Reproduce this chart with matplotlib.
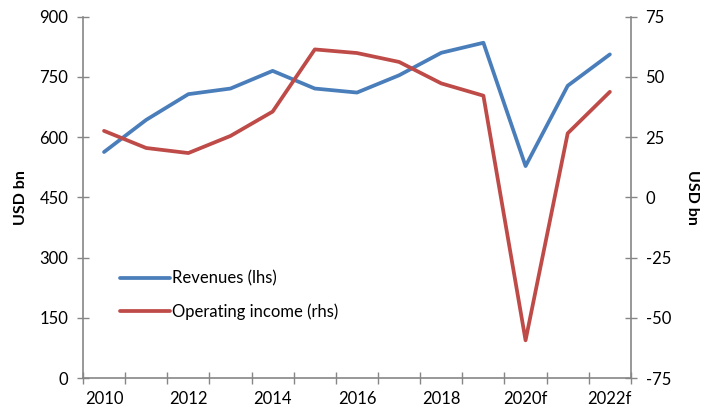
import numpy as np
import matplotlib.pyplot as plt
from matplotlib.ticker import FixedLocator, MultipleLocator

plt.rcParams['font.family'] = ['Lato', 'DejaVu Sans']
plt.rcParams['axes.unicode_minus'] = False

years = ['2010', '2011', '2012', '2013', '2014', '2015', '2016', '2017',
         '2018', '2019', '2020f', '2021f', '2022f']
revenues = [563, 643, 707, 721, 765, 721, 711, 754, 810, 835, 528, 728, 806]
op_income = [27.6, 20.5, 18.4, 25.5, 35.6, 61.4, 59.9, 56.2, 47.3, 42.2, -59.3, 26.6, 43.8]

blue = '#4A7EBB'
red = '#BE4B48'
grey = '#868686'

fig = plt.figure(figsize=(7.03, 4.16), dpi=100)
ax1 = fig.add_axes([0.118, 0.091, 0.7795, 0.869])
ax2 = ax1.twinx()

x = np.arange(len(years))
l1, = ax1.plot(x, revenues, color=blue, lw=2.7, solid_capstyle='round', label='Revenues (lhs)')
l2, = ax2.plot(x, op_income, color=red, lw=2.7, solid_capstyle='round', label='Operating income (rhs)')

ax1.set_xlim(-0.5, len(years) - 0.5)
ax1.set_ylim(0, 900)
ax2.set_ylim(-75, 75)
ax1.yaxis.set_major_locator(MultipleLocator(150))
ax2.yaxis.set_major_locator(MultipleLocator(25))

# labels on every other year, tick marks on category boundaries
ax1.set_xticks(x[::2])
ax1.set_xticklabels(years[::2])
ax1.xaxis.set_minor_locator(FixedLocator(np.arange(-0.5, len(years), 1.0)))
ax1.tick_params(axis='x', which='major', length=0, pad=9)
ax1.tick_params(axis='x', which='minor', length=9, direction='inout', color=grey, width=1)

for ax in (ax1, ax2):
    for side in ('top', 'left', 'right', 'bottom'):
        ax.spines[side].set_visible(False)
ax1.spines['left'].set_visible(True)
ax1.spines['bottom'].set_visible(True)
ax2.spines['right'].set_visible(True)
for sp in (ax1.spines['left'], ax1.spines['bottom'], ax2.spines['right']):
    sp.set_color(grey)
    sp.set_linewidth(1.2)

ax1.tick_params(axis='y', length=9, direction='inout', color=grey, width=1, labelsize=12, pad=6)
ax2.tick_params(axis='y', length=9, direction='inout', color=grey, width=1, labelsize=12, pad=6)
ax1.tick_params(axis='x', labelsize=12)

ax1.set_ylabel('USD bn', fontsize=11.5, fontweight='bold', labelpad=8)
ax2.set_ylabel('USD bn', fontsize=11.5, fontweight='bold', rotation=-90, labelpad=20)

ax1.legend([l1, l2], [l1.get_label(), l2.get_label()], loc='lower left',
           bbox_to_anchor=(0.04, 0.12), frameon=False, fontsize=12,
           handlelength=3.0, handletextpad=0.1, labelspacing=1.0)

fig.savefig('out.png', dpi=100)
